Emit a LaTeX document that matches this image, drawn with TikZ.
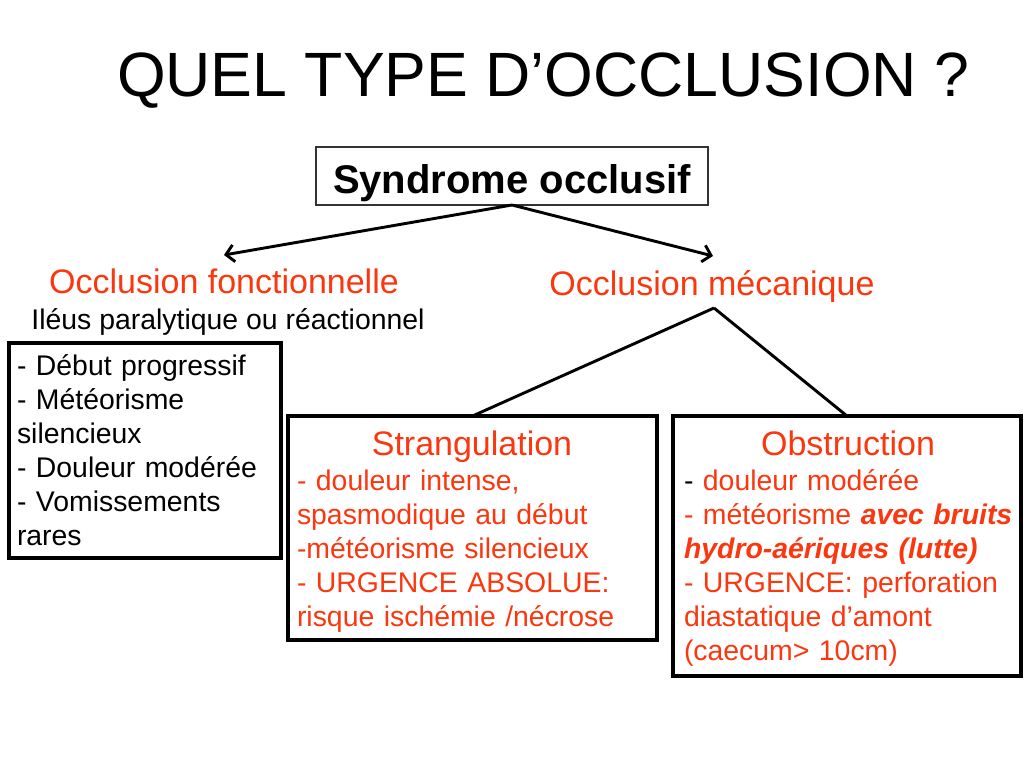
\documentclass[tikz,border=0pt]{standalone}
\usepackage{fontspec}
\setmainfont{Liberation Sans}
\usetikzlibrary{arrows.meta}
\definecolor{occred}{RGB}{250,55,15}
\begin{document}
\begin{tikzpicture}[x=1pt,y=-1pt,
  every node/.style={inner sep=0pt, outer sep=0pt},
  ttl/.style={font=\fontsize{62.6}{75}\selectfont, anchor=base west},
  head/.style={font=\fontsize{34}{41}\selectfont, text=occred, anchor=base},
  sub/.style={font=\fontsize{28.4}{34}\selectfont, anchor=base},
  body/.style={font=\fontsize{28.4}{34}\selectfont, align=left, anchor=base west, text width=#1},
  box/.style={draw, line width=3.2pt, anchor=north west},
  conn/.style={line width=2.9pt},
  arr/.style={conn, -{Straight Barb[length=8pt,width=17pt,line width=2.9pt]}}
]
\useasboundingbox (0,0) rectangle (1024,768);
\fill[white] (0,0) rectangle (1024,768);

% title
\node[ttl] (title) at (117,96) {QUEL TYPE D’OCCLUSION ?};

% syndrome box
\node[draw=black!80, line width=1.5pt, anchor=north west, minimum width=392pt, minimum height=58pt] (synd) at (316,147) {};
\node[font=\bfseries\fontsize{40}{48}\selectfont, anchor=base] (syndt) at (512,193) {Syndrome occlusif};

% second level
\node[head] (fonc) at (224,293) {Occlusion fonctionnelle};
\node[sub] (ileus) at (228,329) {Iléus paralytique ou réactionnel};
\node[head] (meca) at (712,295) {Occlusion mécanique};

\coordinate (ltip) at (224,255);
\coordinate (rtip) at (713,256);
\coordinate (apex) at (714,308);
\draw[arr] (synd.south) -- (ltip);
\draw[arr] (synd.south) -- (rtip);

% left box
\node[box, minimum width=272pt, minimum height=215pt] (lbox) at (9,343) {};
\node[body=260pt] (ltext) at (17,375) {- Début progressif\\- Météorisme\\silencieux\\- Douleur modérée\\- Vomissements\\rares};

% strangulation box
\node[box, minimum width=369pt, minimum height=224pt] (sbox) at (288,416) {};
\node[head] (stitle) at (472,455) {Strangulation};
\node[body=355pt, text=occred] (stext) at (297,490) {- douleur intense,\\spasmodique au début\\-météorisme silencieux\\- URGENCE ABSOLUE:\\risque ischémie /nécrose};

% obstruction box
\node[box, minimum width=348pt, minimum height=260pt] (obox) at (673,416) {};
\node[head] (otitle) at (848,455) {Obstruction};
\node[body=335pt, text=occred] (otext) at (684,490) {\textcolor{black}{-} douleur modérée\\- météorisme \textbf{\textit{avec bruits}}\\\textbf{\textit{hydro-aériques (lutte)}}\\- URGENCE: perforation\\diastatique d’amont\\(caecum> 10cm)};

\draw[conn] (apex) -- (sbox.north);
\draw[conn] (apex) -- (obox.north);
\end{tikzpicture}
\end{document}
